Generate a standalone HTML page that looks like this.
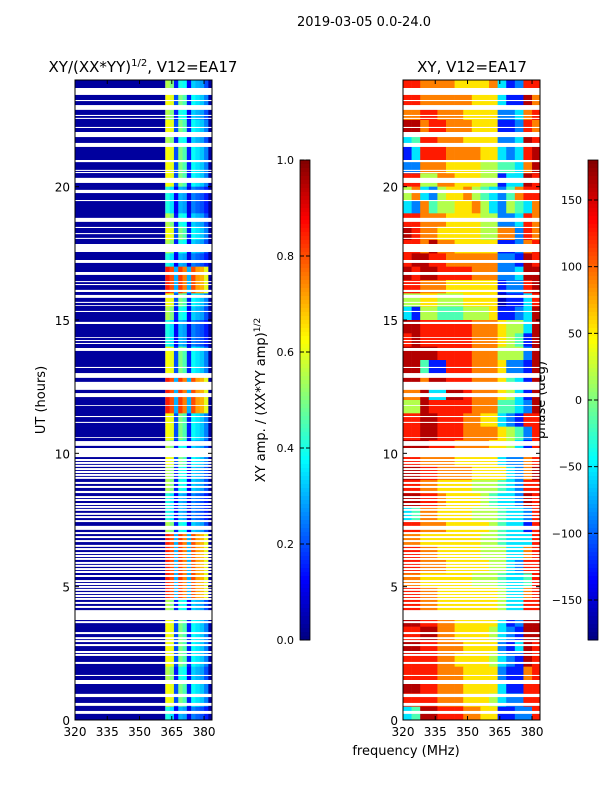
<!DOCTYPE html>
<html><head><meta charset="utf-8"><style>
html,body{margin:0;padding:0;background:#fff;}
svg{display:block;font-family:"DejaVu Sans","Liberation Sans",sans-serif;}
</style></head><body>
<svg id="fig" width="600" height="800" viewBox="0 0 600 800">
<text x="364" y="26" font-size="13" text-anchor="middle">2019-03-05 0.0-24.0</text>
<text x="143" y="72" font-size="15" text-anchor="middle">XY/(XX*YY)<tspan font-size="10" dy="-6">1/2</tspan><tspan dy="6">, V12=EA17</tspan></text>
<text x="472" y="72" font-size="15" text-anchor="middle">XY, V12=EA17</text>
<text transform="translate(45,400) rotate(-90)" font-size="13" text-anchor="middle">UT (hours)</text>
<text transform="translate(265,400) rotate(-90)" font-size="13" text-anchor="middle">XY amp. / (XX*YY amp)<tspan font-size="9" dy="-5">1/2</tspan></text>
<text transform="translate(545,400) rotate(-90)" font-size="13" text-anchor="middle">phase (deg)</text>
<text x="406" y="755" font-size="13" text-anchor="middle">frequency (MHz)</text>
<g id="L"></g>
<g id="R"></g>
<g id="CB"></g>
</svg>
<script>
// ---- data ----
const freqMin = 320, freqMax = 383.7, tMin = 0, tMax = 24;
const xTicks = [320, 335, 350, 365, 380];
const yTicks = [0, 5, 10, 15, 20];
const ampTicks = [0.0, 0.2, 0.4, 0.6, 0.8, 1.0];
const phaseTicks = [-150, -100, -50, 0, 50, 100, 150];
// amplitude profile per row type over 362-384 MHz, 2 MHz bins (below 362 ≈ 0.03)
const ampBins = [362, 364, 366, 368, 370, 372, 374, 376, 378, 380, 382];
const profN = [0.55, 0.5, 0.15, 0.4, 0.38, 0.12, 0.33, 0.3, 0.28, 0.2, 0.03];
const profB = [0.62, 0.6, 0.2, 0.5, 0.45, 0.15, 0.38, 0.35, 0.32, 0.25, 0.03];
const profD = [0.4, 0.35, 0.12, 0.3, 0.28, 0.1, 0.25, 0.22, 0.2, 0.15, 0.03];
const profR = [0.85, 0.8, 0.3, 0.82, 0.75, 0.3, 0.8, 0.72, 0.7, 0.6, 0.03];
// row types from 24h down to 0h in 0.5h steps
const ampRowTypes = "nbnbnbbbddnbndrrbnddbbrrrbbnbnnddnrrrrrnbbbbnbbd";
// phase rows (24h → 0h, 0.5h), 16 bins of 4 MHz; digit d → -162+36d deg
const phaseRows = ["8877776666731288","8877777766631197","7788777666622378","9978877766611287",
"3488777666622398","1388877776632389","2277766665544379","8855776665513398","5732566754324788",
"3274556675325437","8877766665522387","9877666665577287","8879776666611278","8998877777722198",
"9899888877722399","8877766666612289","5566555666601138","3155444555611239","9988888877765539",
"8988888877765419","9999888877755529","9941188877762219","9979988877764319","7793399877765319",
"5598888877744329","8899888776632188","8899888777765428","9998887777665318","8877776666632278",
"9988777766663279","8877666655543288","9988766665433298","3477666655543328","8877766666543318",
"7766666665543338","8877666665553378","8877766666553288","7766666655543348","8877666666653378",
"8877666666653388","9988776666631299","8899776666532199","9988777666621398","8888776666532198",
"8888777666621178","9988777666631188","8888777666532288","3499888776611228"];
// no-data (white) bands [hour high, hour low]
const gapBands = [[23.70,23.44],[23.25,23.21],[23.06,22.88],[22.69,22.65],[22.58,22.54],[22.24,22.20],
[22.05,21.86],[21.64,21.49],[21.00,20.92],[20.63,20.59],[20.55,20.51],[20.33,20.14],[19.88,19.76],
[19.50,19.46],[18.83,18.68],[18.49,18.45],[18.26,18.22],[18.08,18.04],[17.85,17.55],[17.25,17.14],
[16.80,16.69],[16.46,16.42],[16.35,16.31],[16.13,16.05],[15.94,15.83],[15.68,15.64],[15.56,15.53],
[15.34,15.30],[14.93,14.85],[14.36,14.33],[14.25,14.21],[14.14,14.10],[13.95,13.84],[13.24,13.20],
[13.01,12.83],[12.68,12.38],[12.26,12.11],[11.81,11.78],[11.40,11.36],[11.18,11.14],[10.61,10.58],
[10.46,10.28],[10.20,9.86],[8.59,8.51],[7.28,7.13],[4.12,3.75],[1.69,1.65],[1.50,1.35],[0.98,0.86],
[0.64,0.53],[0.34,0.23]];
// thin no-data lines (hour centers)
const gapLines = [9.75,9.64,9.53,9.41,9.30,9.19,9.08,8.89,8.74,8.36,8.25,8.10,7.99,7.88,7.73,7.61,7.46,
7.01,6.86,6.71,6.53,6.41,6.26,6.15,6.04,5.89,5.78,5.66,5.55,5.40,5.21,5.10,4.99,4.88,4.76,4.65,4.54,
4.39,4.24,3.67,3.26,3.07,2.96,2.81,2.55,2.44,2.14];
const gapLineWidth = 0.075;

// ---- layout ----
const NS = "http://www.w3.org/2000/svg";
const panels = {L: {x0: 75, x1: 212}, R: {x0: 403, x1: 540}};
const yTop = 80, yBot = 720;
function yS(h) { return yBot - (h - tMin) / (tMax - tMin) * (yBot - yTop); }
function xS(p, f) { return p.x0 + (f - freqMin) / (freqMax - freqMin) * (p.x1 - p.x0); }
function jet(v) {
  v = Math.max(0, Math.min(1, v));
  const r = Math.max(0, Math.min(1, 1.5 - Math.abs(4 * v - 3)));
  const g = Math.max(0, Math.min(1, 1.5 - Math.abs(4 * v - 2)));
  const b = Math.max(0, Math.min(1, 1.5 - Math.abs(4 * v - 1)));
  return "rgb(" + Math.round(r * 255) + "," + Math.round(g * 255) + "," + Math.round(b * 255) + ")";
}
function mk(tag, attrs, parent) {
  const e = document.createElementNS(NS, tag);
  for (const k in attrs) e.setAttribute(k, attrs[k]);
  parent.appendChild(e);
  return e;
}
const profs = {n: profN, b: profB, d: profD, r: profR};
const gL = document.getElementById("L"), gR = document.getElementById("R");

// amplitude heatmap
const pL = panels.L;
for (let i = 0; i < ampRowTypes.length; i++) {
  const hHi = tMax - i * 0.5, hLo = hHi - 0.5;
  const y = yS(hHi), hgt = yS(hLo) - y;
  const bg = mk("rect", {x: pL.x0, y: y, width: xS(pL, ampBins[0]) - pL.x0, height: hgt + 0.3, fill: jet(0.03)}, gL);
  
  
  const prof = profs[ampRowTypes[i]];
  for (let j = 0; j < ampBins.length; j++) {
    const f0 = ampBins[j], f1 = Math.min(freqMax, f0 + 2);
    const c = mk("rect", {x: xS(pL, f0), y: y, width: xS(pL, f1) - xS(pL, f0) + 0.3, height: hgt + 0.3, fill: jet(prof[j])}, gL);
    
    
  }
}
// phase heatmap
const pR = panels.R;
for (let i = 0; i < phaseRows.length; i++) {
  const hHi = tMax - i * 0.5, hLo = hHi - 0.5;
  const y = yS(hHi), hgt = yS(hLo) - y;
  for (let j = 0; j < 16; j++) {
    const f0 = freqMin + j * 4, f1 = Math.min(freqMax, f0 + 4);
    const deg = -162 + 36 * Number(phaseRows[i][j]);
    const c = mk("rect", {x: xS(pR, f0), y: y, width: xS(pR, f1) - xS(pR, f0) + 0.3, height: hgt + 0.3, fill: jet((deg + 180) / 360)}, gR);
    
    
  }
}
// gaps and axes on both panels
for (const key of ["L", "R"]) {
  const p = panels[key], g = key === "L" ? gL : gR;
  for (const b of gapBands) {
    const r = mk("rect", {x: p.x0, y: yS(b[0]), width: p.x1 - p.x0, height: yS(b[1]) - yS(b[0]), fill: "#fff"}, g);
    
    
  }
  for (const h of gapLines) {
    const r = mk("rect", {x: p.x0, y: yS(h + gapLineWidth / 2), width: p.x1 - p.x0, height: yS(h - gapLineWidth / 2) - yS(h + gapLineWidth / 2), fill: "#fff"}, g);
    
    
  }
  const fr = mk("rect", {x: p.x0, y: yTop, width: p.x1 - p.x0, height: yBot - yTop, fill: "none", stroke: "#000", "stroke-width": 1}, g);
  
  
  for (const t of xTicks) {
    const x = xS(p, t);
    mk("line", {x1: x, x2: x, y1: yBot, y2: yBot - 4, stroke: "#000"}, g);
    mk("line", {x1: x, x2: x, y1: yTop, y2: yTop + 4, stroke: "#000"}, g);
    const tx = mk("text", {x: x, y: yBot + 16, "font-size": 12, "text-anchor": "middle"}, g);
    tx.textContent = t;
    
    
  }
  for (const t of yTicks) {
    const y = yS(t);
    mk("line", {x1: p.x0, x2: p.x0 + 4, y1: y, y2: y, stroke: "#000"}, g);
    mk("line", {x1: p.x1, x2: p.x1 - 4, y1: y, y2: y, stroke: "#000"}, g);
    const tx = mk("text", {x: p.x0 - 5, y: y + 5, "font-size": 12, "text-anchor": "end"}, g);
    tx.textContent = t;
    
    
  }
}
// colorbars
const gC = document.getElementById("CB");
function colorbar(x0, vmin, vmax, ticks, name) {
  const top = 160, bot = 640, w = 10, n = 120;
  for (let k = 0; k < n; k++) {
    const r = mk("rect", {x: x0, y: top + (bot - top) * k / n, width: w, height: (bot - top) / n + 0.5, fill: jet(1 - (k + 0.5) / n)}, gC);
    
    
  }
  mk("rect", {x: x0, y: top, width: w, height: bot - top, fill: "none", stroke: "#000", "stroke-width": 0.8}, gC);
  for (const t of ticks) {
    const y = bot - (t - vmin) / (vmax - vmin) * (bot - top);
    mk("line", {x1: x0, x2: x0 + 4, y1: y, y2: y, stroke: "#000"}, gC);
    mk("line", {x1: x0 + w, x2: x0 + w - 4, y1: y, y2: y, stroke: "#000"}, gC);
    const tx = mk("text", {x: x0 - 6, y: y + 4, "font-size": 11, "text-anchor": "end"}, gC);
    tx.textContent = (vmax <= 1 ? t.toFixed(1) : (t < 0 ? "\u2212" + Math.abs(t) : String(t)));
    
    
  }
}
colorbar(300, 0, 1, ampTicks, "amp-colorbar");
colorbar(588, -180, 180, phaseTicks, "phase-colorbar");
</script>
</body></html>
